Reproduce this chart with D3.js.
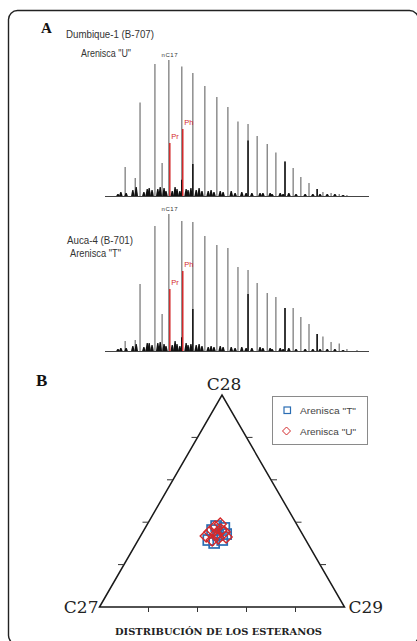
<!DOCTYPE html>
<html>
<head>
<meta charset="utf-8">
<script src="https://cdn.jsdelivr.net/npm/d3@7"></script>
<style>
  html, body { margin: 0; padding: 0; background: #fff; }
  svg { display: block; }
</style>
</head>
<body>
<div id="chart"></div>
<script>
// ---------------- DATA ----------------
// Chromatograms (retention time in min, relative intensity in %)
const peakRT     = [14.2,16.3,17.3,20.4,21.9,23.3,26.0,28.3,30.8,33.3,35.6,37.7,39.8,41.7,43.8,45.6,47.5,49.2,50.8,52.5,54.2,55.4,57.1,58.8,60.4,62.5];
const intensityU = [21.3,13.2,68.8,97.1,24.3,100,95.2,90.4,80.9,72.8,65.4,54.8,52.9,44.1,38.2,32.0,25.4,20.6,14.0,9.6,5.1,2.9,2.2,1.5,0.7,0];
const intensityT = [7.3,8.0,48.9,91.2,27.0,100,94.9,94.2,83.9,77.4,75.2,61.3,59.1,49.6,42.3,39.4,31.4,31.4,24.8,19.7,12.4,10.6,6.6,5.5,1.5,0.7];
const nC17RT = 23.3;

const isoprenoidNames = ["Pr", "Ph"];
const isoprenoidRT    = [23.5, 26.2];
const isoprenoidU     = [39.0, 49.3];
const isoprenoidT     = [45.3, 58.4];

const darkRT = [26.0, 28.3, 39.8, 47.5, 54.2];
const darkU  = [12.0, 23.5, 40.8, 25.4, 5.1];
const darkT  = [10.0, 30.7, 41.6, 31.4, 12.4];

const minorRT = [12.7,13.3,14.4,15.8,16.5,18.1,18.8,19.2,19.8,21.0,21.5,22.3,22.7,24.0,24.6,25.0,25.6,26.9,27.3,27.9,29.0,29.6,30.2,31.5,32.1,32.7,34.0,34.6,36.3,37.1,38.5,39.4,40.6,42.3,42.9,44.4,44.8,46.5,47.1,48.3,49.8,51.7,53.3,54.8,56.3,57.9,59.6];
const minorU  = [1.5,2.9,2.2,4.4,6.6,2.9,5.1,5.9,4.4,5.1,6.6,5.9,3.7,3.7,6.6,5.1,3.7,5.1,4.4,5.9,4.4,5.9,3.7,3.7,4.4,2.9,3.7,2.9,3.7,2.2,2.9,2.2,2.2,2.2,2.2,2.2,1.5,2.2,1.5,2.2,1.5,1.5,1.5,1.5,1.5,1.5,0.7];
const minorT  = [1.5,2.2,2.2,3.7,5.1,2.9,5.9,5.9,4.4,5.9,6.6,5.1,3.7,4.4,7.3,5.1,3.7,5.9,4.4,5.1,4.4,5.1,3.7,2.9,3.7,2.9,3.7,2.9,2.9,2.2,2.9,2.2,2.2,2.9,2.2,2.2,1.5,2.2,1.5,2.2,1.5,1.5,1.5,1.5,1.5,1.5,0.7];

const samples = ["Dumbique-1 (B-707)", "Auca-4 (B-701)"];
const sandstones = ['Arenisca "U"', 'Arenisca "T"'];

// Ternary sterane distribution (%C27, %C28, %C29)
const sT27 = [39.8,35.9,34.6,30.4,34.1,38.1,31.1,33.3];
const sT28 = [31.6,36.3,34.0,37.3,31.6,30.2,34.4,38.2];
const sT29 = [28.6,27.8,31.4,32.3,34.3,31.7,34.5,28.5];

const sU27 = [37.2,34.0,31.1,39.7,35.3,31.4,38.2,32.3,35.2,31.8];
const sU28 = [35.4,37.7,39.2,33.5,32.5,35.4,31.6,36.3,34.4,33.0];
const sU29 = [27.4,28.3,29.7,26.8,32.2,33.2,30.2,31.4,30.4,35.2];

const ternaryTicks = [20, 40, 60, 80];
const vertexLabels = ["C27", "C28", "C29"];
const legendLabels = ['Arenisca "T"', 'Arenisca "U"'];
const xTitle = "DISTRIBUCIÓN DE LOS ESTERANOS";

// ---------------- DRAWING ----------------
const W = 417, H = 641;
const svg = d3.select("#chart").append("svg").attr("width", W).attr("height", H);

// frame
svg.append("rect").attr("x", 8.5).attr("y", 10.5).attr("width", 410).attr("height", 634)
  .attr("rx", 9).attr("fill", "none").attr("stroke", "#222").attr("stroke-width", 1.4);

const narrow = "'Liberation Sans Narrow','Arial Narrow','Liberation Sans',sans-serif";
const GRAY = "#7d7d7d", RED = "#d3292b", BLUE = "#2a6db3";

svg.append("text").attr("x", 41).attr("y", 33).text("A")
  .attr("font-family", "'Liberation Serif',serif").attr("font-weight", "bold").attr("font-size", 15).attr("fill", "#111");

const x = d3.scaleLinear().domain([10, 65]).range([105, 369]);
const panels = [
  { y: d3.scaleLinear().domain([0, 100]).range([196, 60]), I: intensityU, iso: isoprenoidU, dark: darkU, minor: minorU,
    lab: [{t: samples[0], x: 66, y: 38, w: 88}, {t: sandstones[0], x: 81, y: 57, w: 50}] },
  { y: d3.scaleLinear().domain([0, 100]).range([351, 214]), I: intensityT, iso: isoprenoidT, dark: darkT, minor: minorT,
    lab: [{t: samples[1], x: 67, y: 244, w: 66}, {t: sandstones[1], x: 70, y: 257, w: 51}] }
];

panels.forEach(p => {
  const g = svg.append("g");
  const base = p.y(0);
  // baseline
  g.append("line").attr("x1", x(10)).attr("x2", x(65)).attr("y1", base + 0.5).attr("y2", base + 0.5)
    .attr("stroke", "#444").attr("stroke-width", 1.1);
  // n-alkane peaks
  g.selectAll(".pk").data(peakRT.map((rt, i) => ({rt, v: p.I[i]})).filter(d => d.v > 0))
    .enter().append("line")
    .attr("x1", d => x(d.rt)).attr("x2", d => x(d.rt))
    .attr("y1", base).attr("y2", d => p.y(d.v))
    .attr("stroke", GRAY).attr("stroke-width", 1.3);
  // dark parts
  g.selectAll(".dk").data(darkRT.map((rt, i) => ({rt, v: p.dark[i]})))
    .enter().append("line")
    .attr("x1", d => x(d.rt)).attr("x2", d => x(d.rt))
    .attr("y1", base).attr("y2", d => p.y(d.v))
    .attr("stroke", "#111").attr("stroke-width", 1.5);
  // minor peaks (black blobs)
  g.selectAll(".mn").data(minorRT.map((rt, i) => ({rt, v: p.minor[i]})))
    .enter().append("path")
    .attr("d", d => {
      const cx = x(d.rt), top = p.y(d.v);
      return `M${cx - 1.8},${base} L${cx - 0.6},${top} L${cx + 0.6},${top} L${cx + 1.8},${base} Z`;
    })
    .attr("fill", "#111");
  // isoprenoids
  isoprenoidRT.forEach((rt, i) => {
    g.append("line").attr("x1", x(rt)).attr("x2", x(rt)).attr("y1", base).attr("y2", p.y(p.iso[i]))
      .attr("stroke", RED).attr("stroke-width", 1.5);
    g.append("text").attr("x", x(rt) + 1.5).attr("y", p.y(p.iso[i]) - 3.5).text(isoprenoidNames[i])
      .attr("font-family", "'Liberation Sans',Arial,sans-serif").attr("font-size", 7.5).attr("fill", RED);
  });
  // nC17 label
  g.append("text").attr("x", x(nC17RT) + 1).attr("y", p.y(100) - 3).text("nC17")
    .attr("text-anchor", "middle").attr("font-family", "'Liberation Sans',Arial,sans-serif")
    .attr("font-size", 6).attr("letter-spacing", 0.6).attr("fill", "#333");
  // sample labels
  p.lab.forEach(l => {
    g.append("text").attr("x", l.x).attr("y", l.y).text(l.t)
      .attr("font-family", narrow).attr("font-size", 11).attr("fill", "#333")
      .attr("textLength", l.w).attr("lengthAdjust", "spacingAndGlyphs");
  });
});

// ---------------- TERNARY ----------------
svg.append("text").attr("x", 36).attr("y", 386).text("B")
  .attr("font-family", "'Liberation Serif',serif").attr("font-weight", "bold").attr("font-size", 17).attr("fill", "#111");

const tx = d3.scaleLinear().domain([0, 100]).range([99.5, 344.5]);
const ty = d3.scaleLinear().domain([0, 100]).range([607, 395]);
const proj = (c27, c28, c29) => {
  const s = c27 + c28 + c29;
  const a = c28 / s * 100, b = c29 / s * 100;
  return [tx(b + a / 2), ty(a)];
};
const V27 = proj(100, 0, 0), V28 = proj(0, 100, 0), V29 = proj(0, 0, 100);
const tg = svg.append("g");
tg.append("path").attr("d", `M${V27[0]},${V27[1]} L${V28[0]},${V28[1]} L${V29[0]},${V29[1]} Z`)
  .attr("fill", "none").attr("stroke", "#1a1a1a").attr("stroke-width", 1.5).attr("stroke-linejoin", "miter");

ternaryTicks.forEach(t => {
  const b = proj(100 - t, 0, t);
  tg.append("line").attr("x1", b[0]).attr("x2", b[0]).attr("y1", b[1]).attr("y2", b[1] + 5)
    .attr("stroke", "#333").attr("stroke-width", 1);
  const l = proj(100 - t, t, 0);
  tg.append("line").attr("x1", l[0]).attr("x2", l[0] - 6).attr("y1", l[1]).attr("y2", l[1])
    .attr("stroke", "#333").attr("stroke-width", 1);
  const r = proj(0, t, 100 - t);
  tg.append("line").attr("x1", r[0]).attr("x2", r[0] + 6).attr("y1", r[1]).attr("y2", r[1])
    .attr("stroke", "#333").attr("stroke-width", 1);
});

const serif = "'DejaVu Serif','Liberation Serif',serif";
tg.append("text").attr("x", V27[0] - 1).attr("y", V27[1] + 6).attr("text-anchor", "end").text(vertexLabels[0])
  .attr("font-family", serif).attr("font-size", 17).attr("fill", "#222");
tg.append("text").attr("x", V28[0] + 2).attr("y", V28[1] - 5).attr("text-anchor", "middle").text(vertexLabels[1])
  .attr("font-family", serif).attr("font-size", 17).attr("fill", "#222");
tg.append("text").attr("x", V29[0] + 4).attr("y", V29[1] + 6).attr("text-anchor", "start").text(vertexLabels[2])
  .attr("font-family", serif).attr("font-size", 17).attr("fill", "#222");

tg.append("text").attr("x", 115).attr("y", 635).text(xTitle)
  .attr("font-family", serif).attr("font-weight", "bold").attr("font-size", 10).attr("fill", "#222")
  .attr("textLength", 207).attr("lengthAdjust", "spacingAndGlyphs");

// data points
const ptsT = sT27.map((v, i) => proj(v, sT28[i], sT29[i]));
const ptsU = sU27.map((v, i) => proj(v, sU28[i], sU29[i]));
const sq = 10;
tg.selectAll(".sq").data(ptsT).enter().append("rect")
  .attr("x", d => d[0] - sq / 2).attr("y", d => d[1] - sq / 2).attr("width", sq).attr("height", sq)
  .attr("fill", "none").attr("stroke", BLUE).attr("stroke-width", 1.7);
const dm = 6;
tg.selectAll(".dm").data(ptsU).enter().append("path")
  .attr("d", d => `M${d[0]},${d[1] - dm} L${d[0] + dm},${d[1]} L${d[0]},${d[1] + dm} L${d[0] - dm},${d[1]} Z`)
  .attr("fill", "none").attr("stroke", RED).attr("stroke-width", 1.4);

// legend
const lg = svg.append("g");
lg.append("rect").attr("x", 272.5).attr("y", 396.5).attr("width", 95).attr("height", 48)
  .attr("fill", "#fff").attr("stroke", "#8a8a8a").attr("stroke-width", 1);
lg.append("rect").attr("x", 284).attr("y", 407).attr("width", 6.5).attr("height", 6.5)
  .attr("fill", "none").attr("stroke", BLUE).attr("stroke-width", 1.2);
lg.append("path").attr("d", "M286.5,427 L290.5,431 L286.5,435 L282.5,431 Z")
  .attr("fill", "none").attr("stroke", RED).attr("stroke-width", 1);
legendLabels.forEach((t, i) => {
  lg.append("text").attr("x", 300).attr("y", 413.5 + i * 21).text(t)
    .attr("font-family", "'Liberation Sans',Arial,sans-serif").attr("font-size", 8.5).attr("fill", "#444")
    .attr("textLength", 56).attr("lengthAdjust", "spacingAndGlyphs");
});
</script>
</body>
</html>
